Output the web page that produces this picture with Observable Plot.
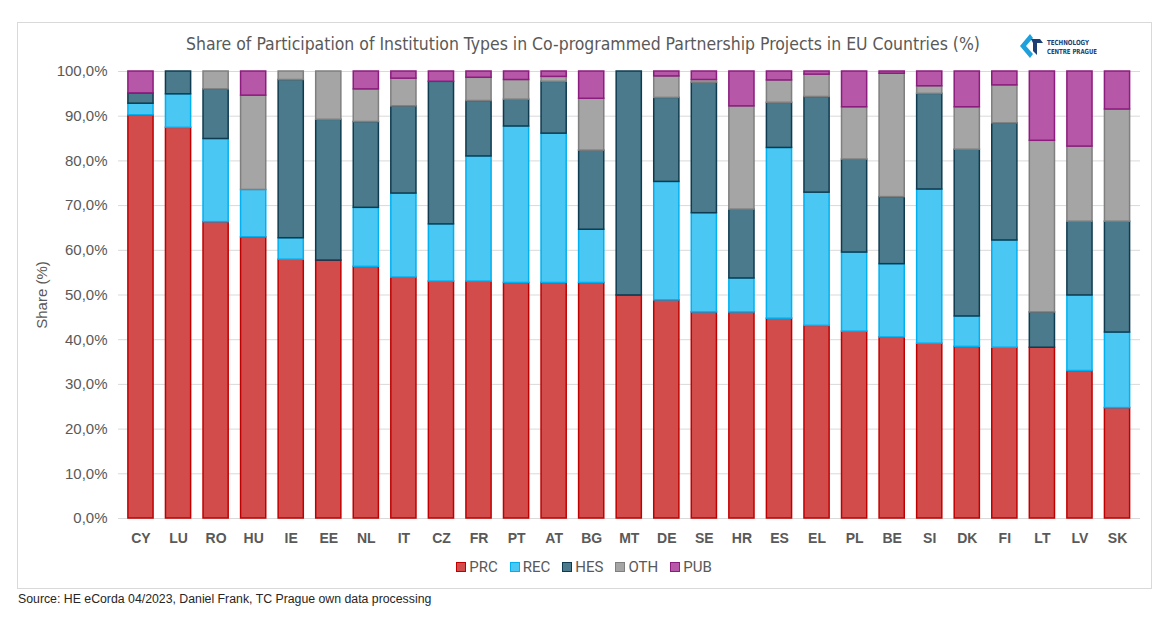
<!DOCTYPE html>
<html><head><meta charset="utf-8">
<script src="https://cdn.jsdelivr.net/npm/d3@7"></script>
<script src="https://cdn.jsdelivr.net/npm/@observablehq/plot@0.6"></script>
<style>
body{margin:0;background:#fff;}
#wrap{position:relative;width:1168px;height:628px;overflow:hidden;font-family:"Liberation Sans",Arial,sans-serif;background:#fff;}
#frame{position:absolute;left:17px;top:22px;width:1135px;height:567px;border:1px solid #d9d9d9;box-sizing:border-box;}
#title{position:absolute;left:0;top:30px;}
#chart{position:absolute;left:0;top:60px;}
#legend{position:absolute;left:0;width:1168px;top:558px;display:flex;justify-content:center;font-family:Roboto,sans-serif;font-size:15px;color:#595959;}
#legend .it{display:flex;align-items:center;margin:0 6px;}
#legend .sw{width:8px;height:8px;border:1.5px solid;margin-right:3px;}
#source{position:absolute;left:18px;top:592px;font-size:12.3px;color:#262626;white-space:nowrap;}
#logo{position:absolute;left:1018px;top:33px;}
#chart svg g[aria-label="x-axis tick label"] text{font-weight:bold;}
</style></head>
<body>
<div id="wrap">
  <div id="frame"></div>
  <svg id="title" width="1168" height="28">
    <text x="583" y="20" text-anchor="middle" textLength="794" lengthAdjust="spacingAndGlyphs" font-family="DejaVu Sans Condensed, Liberation Sans Narrow, sans-serif" font-size="18.5" fill="#595959">Share of Participation of Institution Types in Co-programmed Partnership Projects in EU Countries (%)</text>
  </svg>
  <svg id="logo" width="110" height="30" viewBox="0 0 110 30">
    <path d="M12 1 L2 13 L12 25 L15 21 L8 13 L15 5 Z" fill="#1ea0dc"/>
    <path d="M13 6 L22 6 L25 10 L19 10 L19 22 L15 18 L15 10 Z" fill="#1d3f73"/>
    <text x="29" y="12" textLength="42" lengthAdjust="spacingAndGlyphs" font-family="DejaVu Sans Condensed, sans-serif" font-size="7" font-weight="bold" fill="#1d3f73">TECHNOLOGY</text>
    <text x="29" y="21" textLength="50" lengthAdjust="spacingAndGlyphs" font-family="DejaVu Sans Condensed, sans-serif" font-size="7" font-weight="bold" fill="#1d3f73">CENTRE PRAGUE</text>
  </svg>
  <div id="chart"></div>
  <div id="legend"></div>
  <div id="source">Source: HE eCorda 04/2023, Daniel Frank, TC Prague own data processing</div>
</div>
<script>
const countries = ["CY","LU","RO","HU","IE","EE","NL","IT","CZ","FR","PT","AT","BG","MT","DE","SE","HR","ES","EL","PL","BE","SI","DK","FI","LT","LV","SK"];
const PRC = [90.2,87.4,66.3,62.9,57.9,57.7,56.3,53.9,53.0,53.0,52.7,52.7,52.7,49.9,48.8,46.1,46.1,44.7,43.1,41.8,40.5,39.1,38.4,38.2,38.2,33.0,24.7];
const REC = [2.6,7.5,18.6,10.6,4.8,0,13.2,18.8,12.8,28.0,35.0,33.4,11.9,0,26.5,22.2,7.6,38.2,29.8,17.7,16.4,34.5,6.8,24.0,0,16.9,16.9];
const HES = [2.3,5.1,11.1,0,35.4,31.5,19.2,19.5,31.9,12.4,6.0,11.6,17.7,50.1,18.8,29.2,15.4,10.1,21.4,20.8,15.0,21.4,37.3,26.2,7.9,16.5,24.8];
const OTH = [0,0,4.0,21.1,1.9,10.8,7.3,6.2,0,5.2,4.4,1.1,11.6,0,4.8,0.6,23.1,5.0,5.0,11.7,27.6,1.7,9.5,8.5,38.4,16.8,25.1];
const PUB = [4.9,0,0,5.4,0,0,4.0,1.6,2.3,1.4,1.9,1.2,6.1,0,1.1,1.9,7.8,2.0,0.7,8.0,0.5,3.3,8.0,3.1,15.5,16.8,8.5];
const types = ["PRC","REC","HES","OTH","PUB"];
const yTicks = [0,10,20,30,40,50,60,70,80,90,100];

const FILL = {PRC:"#d34c4c",REC:"#4bc7f4",HES:"#4a7a8b",OTH:"#a5a5a5",PUB:"#b657a7"};
const STROKE = {PRC:"#c00000",REC:"#00b0f0",HES:"#0f3b50",OTH:"#7f7f7f",PUB:"#8c1c7d"};

const series = {PRC, REC, HES, OTH, PUB};
const rows = [];
countries.forEach((c, i) => types.forEach(t => {
  if (series[t][i] > 0) rows.push({country: c, type: t, value: series[t][i]});
}));

const fmt = d => (d * 100).toFixed(1).replace(".", ",") + "%";

const chart = Plot.plot({
  width: 1168, height: 500,
  marginTop: 11, marginBottom: 42, marginLeft: 118, marginRight: 28,
  x: {domain: countries, paddingInner: 0.33, paddingOuter: 0.165, round: false, insetLeft: 3.7, insetRight: 4.2, label: null},
  y: {domain: [0, 1], label: null},
  color: {type: "identity"},
  style: {fontFamily: "Liberation Sans, Arial, sans-serif", color: "#595959", background: "transparent", overflow: "visible"},
  marks: [
    Plot.gridY(yTicks.map(d => d / 100), {stroke: "#d9d9d9", strokeOpacity: 1}),
    Plot.barY(rows, Plot.stackY({
      x: "country", y: "value", z: "type", order: types, offset: "normalize",
      fill: d => FILL[d.type], stroke: d => STROKE[d.type], strokeWidth: 1.5
    })),
    Plot.axisY(yTicks.map(d => d / 100), {tickFormat: fmt, tickSize: 0, tickPadding: 11, fontSize: 15, fill: "#595959",
      label: "Share (%)", labelAnchor: "center", labelOffset: 82, labelArrow: "none"}),
    Plot.axisX({tickSize: 0, tickPadding: 15, fontSize: 14, fontWeight: "bold", fill: "#595959", label: null})
  ]
});
document.getElementById("chart").appendChild(chart);

const legend = document.getElementById("legend");
types.forEach(t => {
  const it = document.createElement("div"); it.className = "it";
  const sw = document.createElement("span"); sw.className = "sw";
  sw.style.background = FILL[t]; sw.style.borderColor = STROKE[t];
  const tx = document.createElement("span"); tx.textContent = t;
  it.appendChild(sw); it.appendChild(tx); legend.appendChild(it);
});
</script>
</body></html>
